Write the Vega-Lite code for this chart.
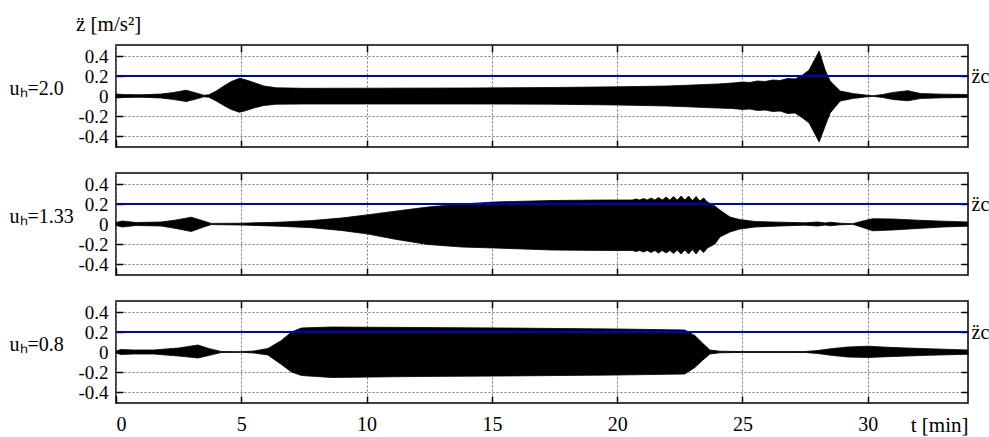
{
  "$schema": "https://vega.github.io/schema/vega-lite/v6.json",
  "padding": {"left": 8, "top": 13, "right": 0, "bottom": 2},
  "background": "white",
  "config": {
    "font": "Liberation Serif",
    "view": {"stroke": "black", "strokeWidth": 1.5},
    "title": {"font": "Liberation Serif", "fontWeight": "normal", "color": "black"},
    "axis": {
      "labelFont": "Liberation Serif", "labelFontSize": 19, "labelColor": "black",
      "titleFont": "Liberation Serif", "titleFontWeight": "normal", "titleColor": "black", "titleFontSize": 20,
      "domain": false, "tickColor": "black", "tickWidth": 1.5, "tickSize": -7,
      "minExtent": 0,
      "gridColor": "#777777", "gridDash": [2, 2], "gridWidth": 1
    }
  },
  "datasets": {
    "p1": [
      {"t": 0.0, "hi": 0.02, "lo": -0.02},
      {"t": 0.3, "hi": 0.015, "lo": -0.015},
      {"t": 1.0, "hi": 0.012, "lo": -0.012},
      {"t": 1.8, "hi": 0.02, "lo": -0.02},
      {"t": 2.3, "hi": 0.035, "lo": -0.035},
      {"t": 2.8, "hi": 0.058, "lo": -0.055},
      {"t": 3.2, "hi": 0.03, "lo": -0.03},
      {"t": 3.5, "hi": 0.008, "lo": -0.008},
      {"t": 3.7, "hi": 0.012, "lo": -0.012},
      {"t": 4.0, "hi": 0.05, "lo": -0.05},
      {"t": 4.3, "hi": 0.1, "lo": -0.095},
      {"t": 4.6, "hi": 0.145, "lo": -0.135},
      {"t": 4.93, "hi": 0.177, "lo": -0.163},
      {"t": 5.2, "hi": 0.16, "lo": -0.145},
      {"t": 5.5, "hi": 0.135, "lo": -0.12},
      {"t": 5.9, "hi": 0.1, "lo": -0.095},
      {"t": 6.4, "hi": 0.082, "lo": -0.082},
      {"t": 7.5, "hi": 0.077, "lo": -0.08},
      {"t": 10.0, "hi": 0.078, "lo": -0.08},
      {"t": 14.0, "hi": 0.08, "lo": -0.08},
      {"t": 17.4, "hi": 0.085, "lo": -0.082},
      {"t": 20.0, "hi": 0.092, "lo": -0.09},
      {"t": 22.0, "hi": 0.1, "lo": -0.1},
      {"t": 24.0, "hi": 0.12, "lo": -0.12},
      {"t": 24.6, "hi": 0.13, "lo": -0.125},
      {"t": 25.0, "hi": 0.14, "lo": -0.135},
      {"t": 25.3, "hi": 0.135, "lo": -0.13},
      {"t": 25.6, "hi": 0.15, "lo": -0.145},
      {"t": 25.9, "hi": 0.145, "lo": -0.14},
      {"t": 26.2, "hi": 0.16, "lo": -0.155},
      {"t": 26.5, "hi": 0.155, "lo": -0.15},
      {"t": 26.8, "hi": 0.175, "lo": -0.175},
      {"t": 27.1, "hi": 0.17, "lo": -0.17},
      {"t": 27.4, "hi": 0.21, "lo": -0.22},
      {"t": 27.66, "hi": 0.26, "lo": -0.27},
      {"t": 28.06, "hi": 0.45, "lo": -0.46},
      {"t": 28.3, "hi": 0.26, "lo": -0.3},
      {"t": 28.5, "hi": 0.15, "lo": -0.17},
      {"t": 28.9, "hi": 0.05, "lo": -0.05},
      {"t": 29.4, "hi": 0.025, "lo": -0.025},
      {"t": 29.9, "hi": 0.01, "lo": -0.01},
      {"t": 30.2, "hi": 0.003, "lo": -0.003},
      {"t": 30.6, "hi": 0.015, "lo": -0.015},
      {"t": 31.0, "hi": 0.035, "lo": -0.035},
      {"t": 31.6, "hi": 0.053, "lo": -0.048},
      {"t": 32.1, "hi": 0.025, "lo": -0.025},
      {"t": 33.0, "hi": 0.018, "lo": -0.018},
      {"t": 34.0, "hi": 0.015, "lo": -0.015}
    ],
    "p2": [
      {"t": 0.0, "hi": 0.015, "lo": -0.015},
      {"t": 0.25, "hi": 0.03, "lo": -0.03},
      {"t": 0.8, "hi": 0.015, "lo": -0.015},
      {"t": 1.8, "hi": 0.02, "lo": -0.02},
      {"t": 2.4, "hi": 0.04, "lo": -0.045},
      {"t": 3.0, "hi": 0.068, "lo": -0.075},
      {"t": 3.5, "hi": 0.03, "lo": -0.03},
      {"t": 3.8, "hi": 0.006, "lo": -0.006},
      {"t": 5.0, "hi": 0.008, "lo": -0.01},
      {"t": 6.5, "hi": 0.018, "lo": -0.022},
      {"t": 7.8, "hi": 0.034, "lo": -0.037},
      {"t": 9.0, "hi": 0.06, "lo": -0.065},
      {"t": 10.05, "hi": 0.092, "lo": -0.1},
      {"t": 11.2, "hi": 0.13, "lo": -0.155},
      {"t": 12.45, "hi": 0.17, "lo": -0.205},
      {"t": 13.8, "hi": 0.2, "lo": -0.23},
      {"t": 15.1, "hi": 0.22, "lo": -0.24},
      {"t": 17.4, "hi": 0.235, "lo": -0.26},
      {"t": 19.5, "hi": 0.24, "lo": -0.265},
      {"t": 20.6, "hi": 0.24, "lo": -0.265},
      {"t": 20.75, "hi": 0.25, "lo": -0.275},
      {"t": 20.9, "hi": 0.24, "lo": -0.265},
      {"t": 21.05, "hi": 0.255, "lo": -0.28},
      {"t": 21.2, "hi": 0.24, "lo": -0.265},
      {"t": 21.35, "hi": 0.26, "lo": -0.285},
      {"t": 21.5, "hi": 0.24, "lo": -0.265},
      {"t": 21.65, "hi": 0.265, "lo": -0.29},
      {"t": 21.8, "hi": 0.24, "lo": -0.265},
      {"t": 21.95, "hi": 0.27, "lo": -0.29},
      {"t": 22.1, "hi": 0.24, "lo": -0.265},
      {"t": 22.25, "hi": 0.275, "lo": -0.295},
      {"t": 22.4, "hi": 0.24, "lo": -0.26},
      {"t": 22.55, "hi": 0.28, "lo": -0.3},
      {"t": 22.7, "hi": 0.24, "lo": -0.26},
      {"t": 22.85, "hi": 0.28, "lo": -0.3},
      {"t": 23.0, "hi": 0.235, "lo": -0.255},
      {"t": 23.15, "hi": 0.275, "lo": -0.3},
      {"t": 23.3, "hi": 0.23, "lo": -0.25},
      {"t": 23.45, "hi": 0.26, "lo": -0.285},
      {"t": 23.6, "hi": 0.22, "lo": -0.24},
      {"t": 23.9, "hi": 0.18, "lo": -0.2},
      {"t": 24.1, "hi": 0.14, "lo": -0.13},
      {"t": 24.5, "hi": 0.07, "lo": -0.08},
      {"t": 24.9, "hi": 0.044, "lo": -0.05},
      {"t": 25.5, "hi": 0.025, "lo": -0.03},
      {"t": 26.5, "hi": 0.018, "lo": -0.02},
      {"t": 27.5, "hi": 0.012, "lo": -0.012},
      {"t": 28.0, "hi": 0.02, "lo": -0.02},
      {"t": 28.3, "hi": 0.01, "lo": -0.01},
      {"t": 28.5, "hi": 0.018, "lo": -0.018},
      {"t": 28.9, "hi": 0.008, "lo": -0.008},
      {"t": 29.4, "hi": 0.003, "lo": -0.003},
      {"t": 29.8, "hi": 0.03, "lo": -0.035},
      {"t": 30.2, "hi": 0.053, "lo": -0.068},
      {"t": 31.0, "hi": 0.05, "lo": -0.06},
      {"t": 32.0, "hi": 0.038, "lo": -0.045},
      {"t": 33.0, "hi": 0.028, "lo": -0.03},
      {"t": 34.0, "hi": 0.02, "lo": -0.022}
    ],
    "p3": [
      {"t": 0.0, "hi": 0.01, "lo": -0.01},
      {"t": 0.2, "hi": 0.025, "lo": -0.025},
      {"t": 0.7, "hi": 0.02, "lo": -0.02},
      {"t": 1.5, "hi": 0.02, "lo": -0.02},
      {"t": 2.5, "hi": 0.04, "lo": -0.04},
      {"t": 3.27, "hi": 0.07, "lo": -0.06},
      {"t": 3.7, "hi": 0.035, "lo": -0.035},
      {"t": 4.2, "hi": 0.005, "lo": -0.005},
      {"t": 5.0, "hi": 0.003, "lo": -0.003},
      {"t": 5.5, "hi": 0.01, "lo": -0.01},
      {"t": 6.06, "hi": 0.035, "lo": -0.03},
      {"t": 6.6, "hi": 0.115, "lo": -0.125},
      {"t": 7.0, "hi": 0.2, "lo": -0.2},
      {"t": 7.4, "hi": 0.24, "lo": -0.235},
      {"t": 8.6, "hi": 0.25, "lo": -0.255},
      {"t": 12.0, "hi": 0.245, "lo": -0.245},
      {"t": 15.4, "hi": 0.24, "lo": -0.24},
      {"t": 20.0, "hi": 0.23, "lo": -0.23},
      {"t": 22.7, "hi": 0.22, "lo": -0.22},
      {"t": 23.1, "hi": 0.165, "lo": -0.155},
      {"t": 23.4, "hi": 0.09, "lo": -0.085},
      {"t": 23.7, "hi": 0.02, "lo": -0.02},
      {"t": 24.1, "hi": 0.008, "lo": -0.008},
      {"t": 25.0, "hi": 0.004, "lo": -0.004},
      {"t": 27.5, "hi": 0.005, "lo": -0.005},
      {"t": 28.0, "hi": 0.015, "lo": -0.015},
      {"t": 28.6, "hi": 0.035, "lo": -0.035},
      {"t": 29.2, "hi": 0.05, "lo": -0.05},
      {"t": 30.0, "hi": 0.058, "lo": -0.055},
      {"t": 31.0, "hi": 0.045, "lo": -0.045},
      {"t": 32.5, "hi": 0.032, "lo": -0.032},
      {"t": 34.0, "hi": 0.02, "lo": -0.023}
    ]
  },
  "spacing": 22,
  "vconcat": [
    {
      "width": 852, "height": 102,
      "title": {"text": "z̈ [m/s²]", "anchor": "start", "frame": "group", "fontSize": 21, "dx": -40, "offset": -12, "baseline": "bottom"},
      "data": {"name": "p1"},
      "layer": [
        {
          "mark": {"type": "area", "color": "black", "stroke": "black", "strokeWidth": 0.8, "interpolate": "linear"},
          "encoding": {
            "x": {"field": "t", "type": "quantitative", "scale": {"domain": [0, 34], "nice": false, "zero": false},
                  "axis": {"orient": "bottom", "values": [0, 5, 10, 15, 20, 25, 30], "labels": false, "title": null, "grid": true}},
            "y": {"field": "hi", "type": "quantitative", "scale": {"domain": [-0.51, 0.51], "nice": false, "zero": false},
                  "axis": {"values": [-0.4, -0.2, 0, 0.2, 0.4], "labelExpr": "toString(datum.value)", "labelPadding": 15, "grid": true, "title": "uₕ=2.0", "titleAngle": 0, "titleAlign": "left", "titleBaseline": "alphabetic", "titleX": -107, "titleY": 49}},
            "y2": {"field": "lo"}
          }
        },
        {
          "mark": {"type": "rule", "color": "#0000cc", "strokeWidth": 2},
          "encoding": {
            "x": {"datum": 0, "type": "quantitative", "axis": {"orient": "top", "values": [5, 10, 15, 20, 25, 30], "labels": false, "title": null, "grid": false, "minExtent": 0}},
            "x2": {"datum": 34},
            "y": {"datum": 0.2, "type": "quantitative", "axis": {"orient": "right", "values": [-0.4, -0.2, 0.2, 0.4], "labelExpr": "datum.value == 0.2 ? 'z̈c' : ''", "labelFontSize": 20, "labelPadding": 10, "grid": false, "title": null}}
          }
        }
      ],
      "resolve": {"axis": {"x": "independent", "y": "independent"}}
    },
    {
      "width": 852, "height": 102,
      "data": {"name": "p2"},
      "layer": [
        {
          "mark": {"type": "area", "color": "black", "stroke": "black", "strokeWidth": 0.8, "interpolate": "linear"},
          "encoding": {
            "x": {"field": "t", "type": "quantitative", "scale": {"domain": [0, 34], "nice": false, "zero": false},
                  "axis": {"orient": "bottom", "values": [0, 5, 10, 15, 20, 25, 30], "labels": false, "title": null, "grid": true}},
            "y": {"field": "hi", "type": "quantitative", "scale": {"domain": [-0.51, 0.51], "nice": false, "zero": false},
                  "axis": {"values": [-0.4, -0.2, 0, 0.2, 0.4], "labelExpr": "toString(datum.value)", "labelPadding": 15, "grid": true, "title": "uₕ=1.33", "titleAngle": 0, "titleAlign": "left", "titleBaseline": "alphabetic", "titleX": -107, "titleY": 49}},
            "y2": {"field": "lo"}
          }
        },
        {
          "mark": {"type": "rule", "color": "#0000cc", "strokeWidth": 2},
          "encoding": {
            "x": {"datum": 0, "type": "quantitative", "axis": {"orient": "top", "values": [5, 10, 15, 20, 25, 30], "labels": false, "title": null, "grid": false}},
            "x2": {"datum": 34},
            "y": {"datum": 0.2, "type": "quantitative", "axis": {"orient": "right", "values": [-0.4, -0.2, 0.2, 0.4], "labelExpr": "datum.value == 0.2 ? 'z̈c' : ''", "labelFontSize": 20, "labelPadding": 10, "grid": false, "title": null}}
          }
        }
      ],
      "resolve": {"axis": {"x": "independent", "y": "independent"}}
    },
    {
      "width": 852, "height": 102,
      "data": {"name": "p3"},
      "layer": [
        {
          "mark": {"type": "area", "color": "black", "stroke": "black", "strokeWidth": 0.8, "interpolate": "linear"},
          "encoding": {
            "x": {"field": "t", "type": "quantitative", "scale": {"domain": [0, 34], "nice": false, "zero": false},
                  "axis": {"orient": "bottom", "values": [0, 5, 10, 15, 20, 25, 30], "labelPadding": 18, "labelFontSize": 20, "grid": true, "title": "t [min]", "titleFontSize": 21, "titleX": 852, "titleAlign": "right", "titleBaseline": "alphabetic", "titleY": 28}},
            "y": {"field": "hi", "type": "quantitative", "scale": {"domain": [-0.51, 0.51], "nice": false, "zero": false},
                  "axis": {"values": [-0.4, -0.2, 0, 0.2, 0.4], "labelExpr": "toString(datum.value)", "labelPadding": 15, "grid": true, "title": "uₕ=0.8", "titleAngle": 0, "titleAlign": "left", "titleBaseline": "alphabetic", "titleX": -107, "titleY": 49}},
            "y2": {"field": "lo"}
          }
        },
        {
          "mark": {"type": "rule", "color": "#0000cc", "strokeWidth": 2},
          "encoding": {
            "x": {"datum": 0, "type": "quantitative", "axis": {"orient": "top", "values": [5, 10, 15, 20, 25, 30], "labels": false, "title": null, "grid": false}},
            "x2": {"datum": 34},
            "y": {"datum": 0.2, "type": "quantitative", "axis": {"orient": "right", "values": [-0.4, -0.2, 0.2, 0.4], "labelExpr": "datum.value == 0.2 ? 'z̈c' : ''", "labelFontSize": 20, "labelPadding": 10, "grid": false, "title": null}}
          }
        }
      ],
      "resolve": {"axis": {"x": "independent", "y": "independent"}}
    }
  ]
}
